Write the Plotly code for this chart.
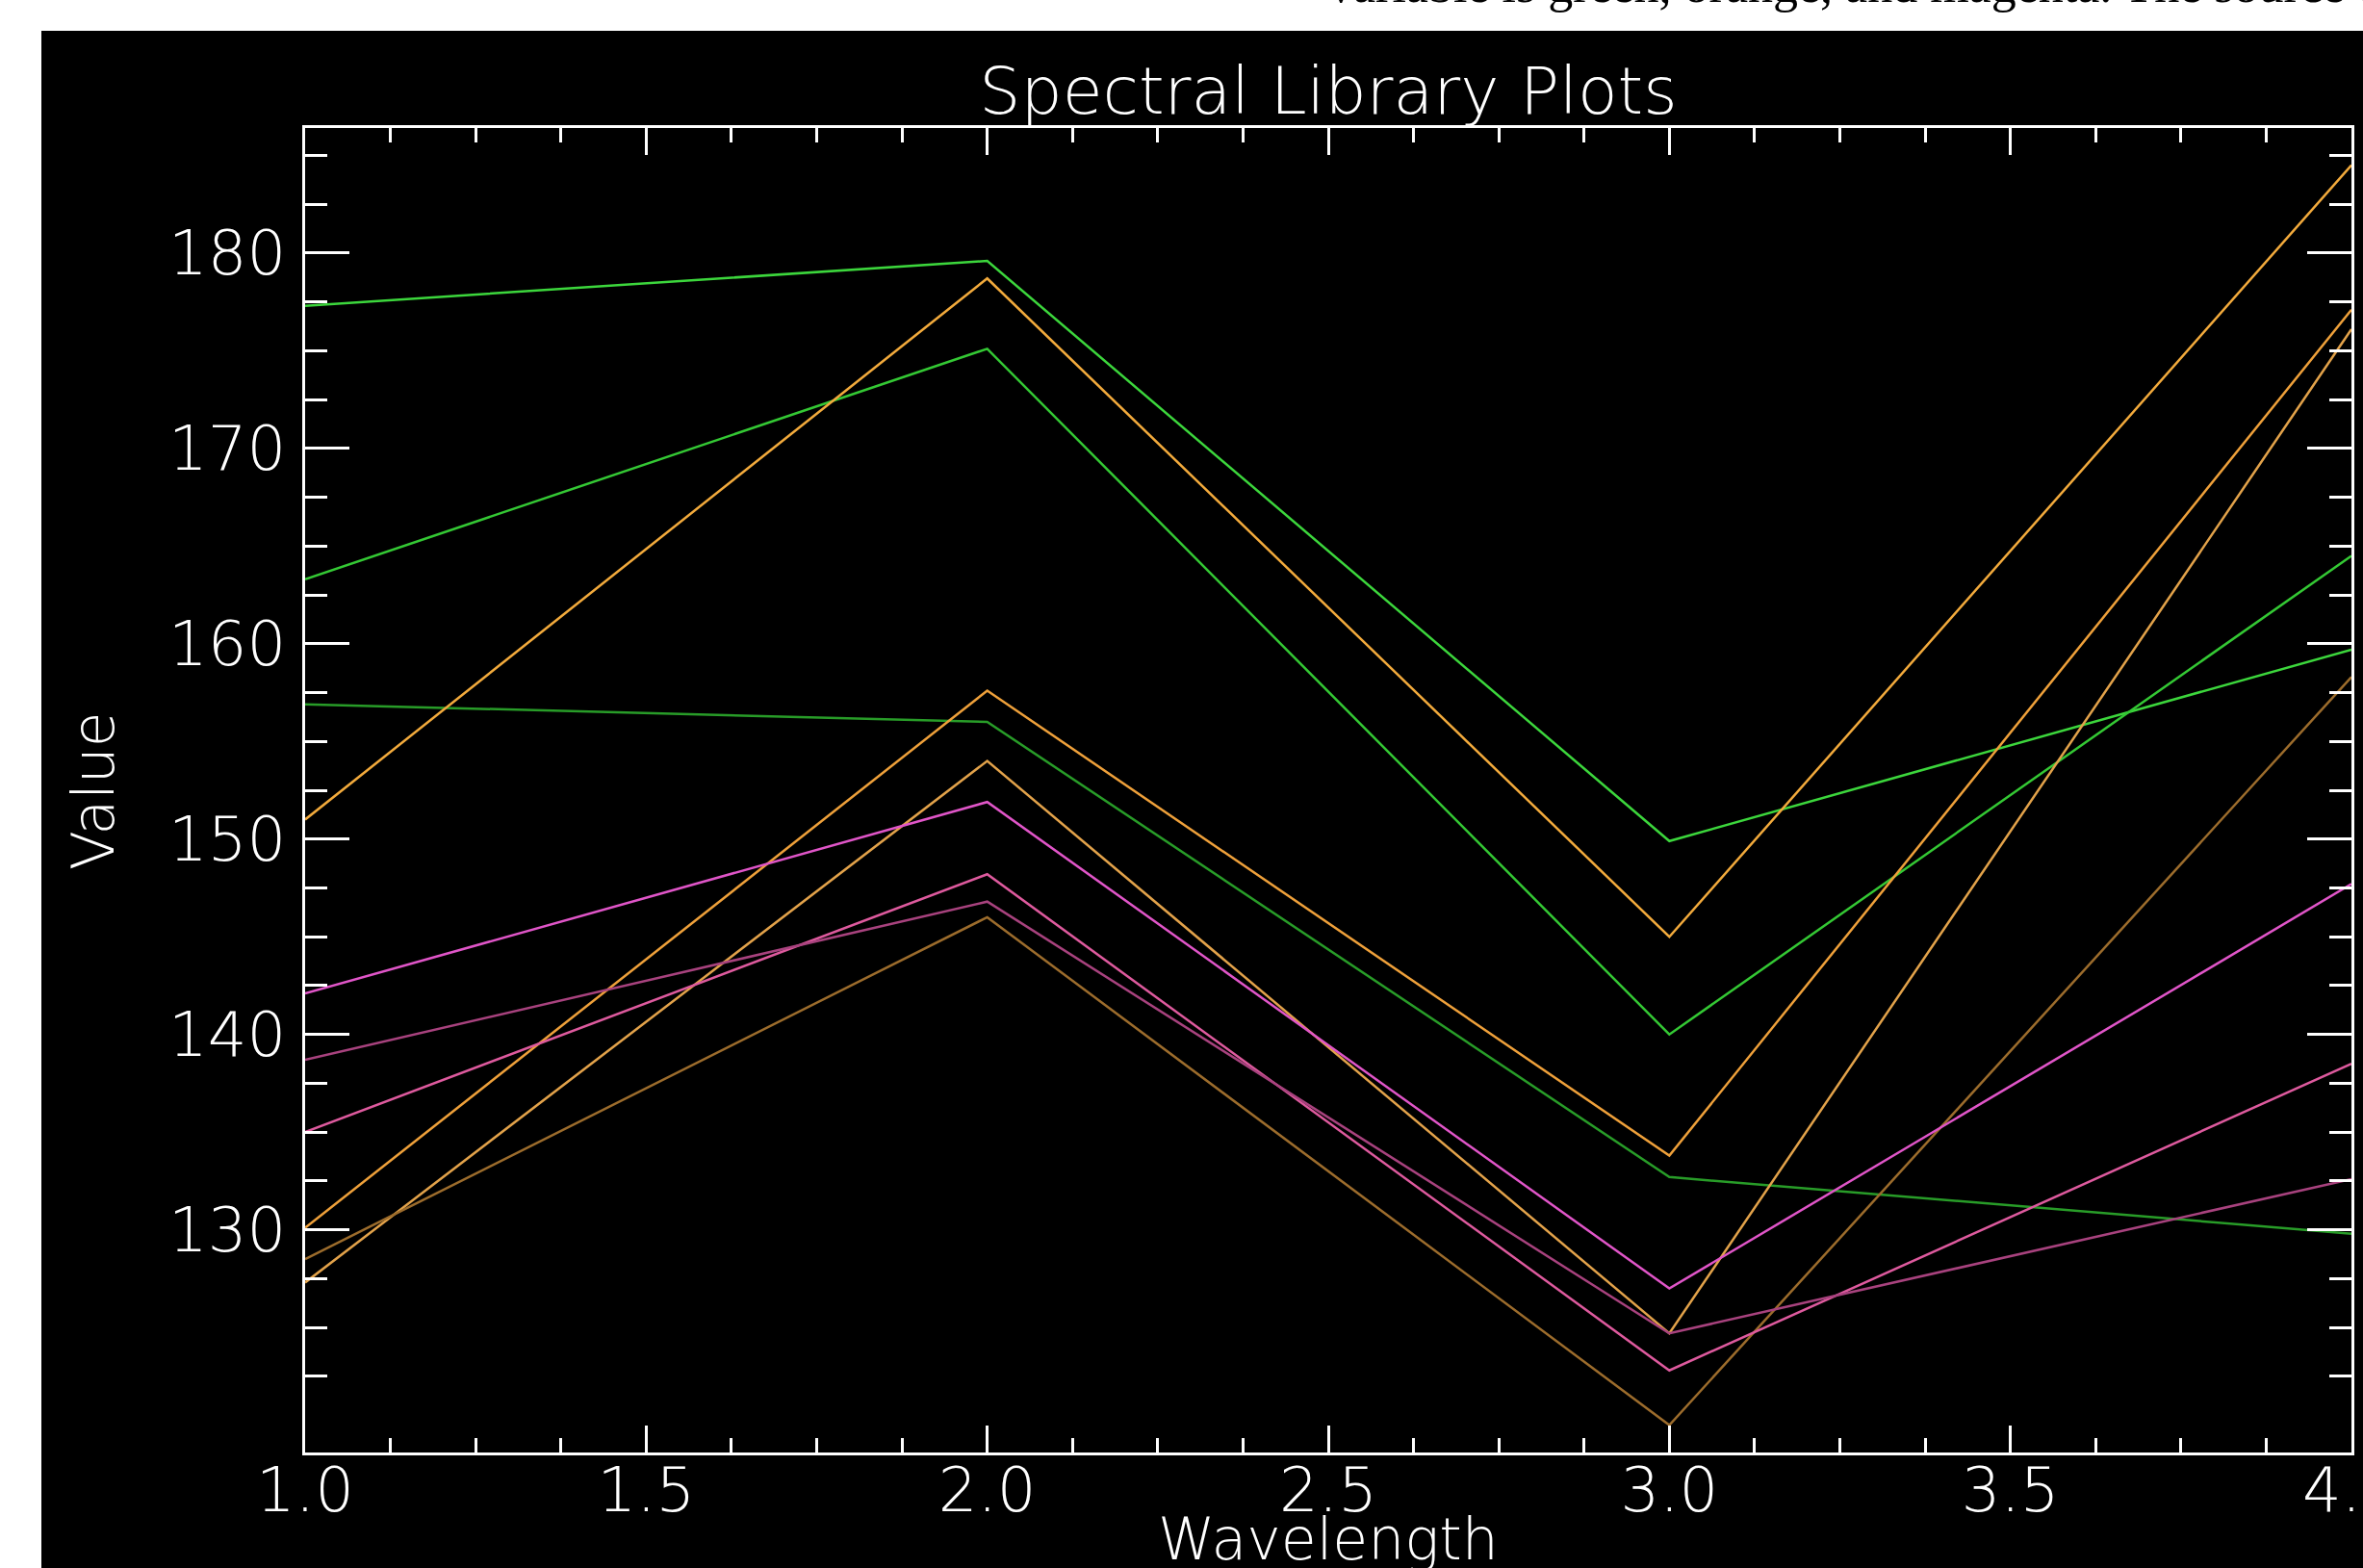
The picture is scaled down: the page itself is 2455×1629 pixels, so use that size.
import plotly.graph_objects as go

# ---------------- data ----------------
wavelength = [1.0, 2.0, 3.0, 4.0]

green_1 = [177.3, 179.6, 149.9, 159.7]
green_2 = [163.3, 175.1, 140.0, 164.5]
green_3 = [156.9, 156.0, 132.7, 129.8]

orange_1 = [151.0, 178.7, 145.0, 184.5]
orange_2 = [130.1, 157.6, 133.8, 177.1]
orange_3 = [127.3, 154.0, 124.7, 176.1]
brown_1 = [128.5, 146.0, 120.0, 158.3]

magenta_1 = [142.1, 151.9, 127.0, 147.7]
magenta_2 = [135.0, 148.2, 122.8, 138.5]
magenta_3 = [138.7, 146.8, 124.7, 132.6]

series = [
    ("green_1", green_1, "#3cd63c"),
    ("green_2", green_2, "#34c834"),
    ("green_3", green_3, "#289c28"),
    ("orange_1", orange_1, "#f2aa3c"),
    ("orange_2", orange_2, "#eea03a"),
    ("orange_3", orange_3, "#e2a24a"),
    ("brown_1", brown_1, "#9c6c2c"),
    ("magenta_1", magenta_1, "#e055c8"),
    ("magenta_2", magenta_2, "#de5a9e"),
    ("magenta_3", magenta_3, "#a8427e"),
]

x_major_ticks = [1.0, 1.5, 2.0, 2.5, 3.0, 3.5, 4.0]
x_tick_labels = ["1.0", "1.5", "2.0", "2.5", "3.0", "3.5", "4.0"]
y_major_ticks = [130, 140, 150, 160, 170, 180]
y_tick_labels = ["130", "140", "150", "160", "170", "180"]
y_minor_ticks = [122.5, 125, 127.5, 132.5, 135, 137.5, 142.5, 145, 147.5,
                 152.5, 155, 157.5, 162.5, 165, 167.5, 172.5, 175, 177.5,
                 182.5, 185]

# ---------------- figure ----------------
W, H = 2455, 1629
L, R, T, B = 317, 12, 133, 120
pw, ph = W - L - R, H - T - B

def px_x(px):
    return (px - L) / pw

def px_y(py):
    return (H - B - py) / ph

FONT = "DejaVu Sans"
WT = 200

fig = go.Figure()
for name, vals, col in series:
    fig.add_trace(go.Scatter(x=wavelength, y=vals, mode="lines", name=name,
                             line=dict(color=col, width=2.5),
                             showlegend=False, hoverinfo="skip"))

axis_common = dict(
    showgrid=False, zeroline=False, showline=True, linecolor="white",
    linewidth=3, mirror="ticks", ticks="inside", tickcolor="white",
    tickwidth=3, tickfont=dict(family=FONT, size=64, color="white", weight=WT),
    automargin=False, ticklabeloverflow="allow",
)

fig.update_xaxes(
    range=[1.0, 4.0], tickmode="array", tickvals=x_major_ticks,
    ticktext=x_tick_labels, ticklen=28, ticklabelstandoff=-19,
    minor=dict(dtick=0.125, ticklen=15, ticks="inside", tickcolor="white",
               tickwidth=3, showgrid=False),
    **axis_common,
)
fig.update_yaxes(
    range=[118.6, 186.4], tickmode="array", tickvals=y_major_ticks,
    ticktext=y_tick_labels, ticklen=46, ticklabelstandoff=4,
    minor=dict(tickmode="array", tickvals=y_minor_ticks, ticklen=23,
               ticks="inside", tickcolor="white", tickwidth=3, showgrid=False),
    **axis_common,
)

fig.update_layout(
    width=W, height=H,
    margin=dict(l=L, r=R, t=T, b=B, pad=0, autoexpand=False),
    paper_bgcolor="black", plot_bgcolor="black",
    title=dict(text="Spectral Library Plots", x=px_x(1380), xref="paper",
               xanchor="center", y=1 - 94 / H, yref="container",
               yanchor="middle",
               font=dict(family=FONT, size=68, color="white", weight=WT)),
    hovermode=False,
    shapes=[
        dict(type="rect", xref="paper", yref="paper", layer="above",
             x0=-0.5, x1=1.5, y0=px_y(32), y1=px_y(-50),
             fillcolor="white", line=dict(width=0)),
        dict(type="rect", xref="paper", yref="paper", layer="above",
             x0=px_x(-50), x1=px_x(43), y0=px_y(H + 50), y1=px_y(-50),
             fillcolor="white", line=dict(width=0)),
    ],
    annotations=[
        dict(text="Wavelength", xref="paper", yref="paper",
             x=px_x(1380), y=px_y(1562), xanchor="center", yanchor="top",
             showarrow=False,
             font=dict(family=FONT, size=60, color="white", weight=WT)),
        dict(text="Value", xref="paper", yref="paper", textangle=-90,
             x=px_x(97), y=px_y(822), xanchor="center", yanchor="middle",
             showarrow=False,
             font=dict(family=FONT, size=60, color="white", weight=WT)),
        dict(text="variable is green, orange, and magenta. The source of standard spectra",
             xref="paper", yref="paper", x=px_x(1378), y=px_y(15),
             xanchor="left", yanchor="bottom", showarrow=False,
             font=dict(family="Liberation Serif", size=52, color="black")),
    ],
)

fig.write_html("out.html",
               config={"displayModeBar": False},
               post_script="document.body.style.margin='0px';"
                           "document.body.style.padding='0px';")
